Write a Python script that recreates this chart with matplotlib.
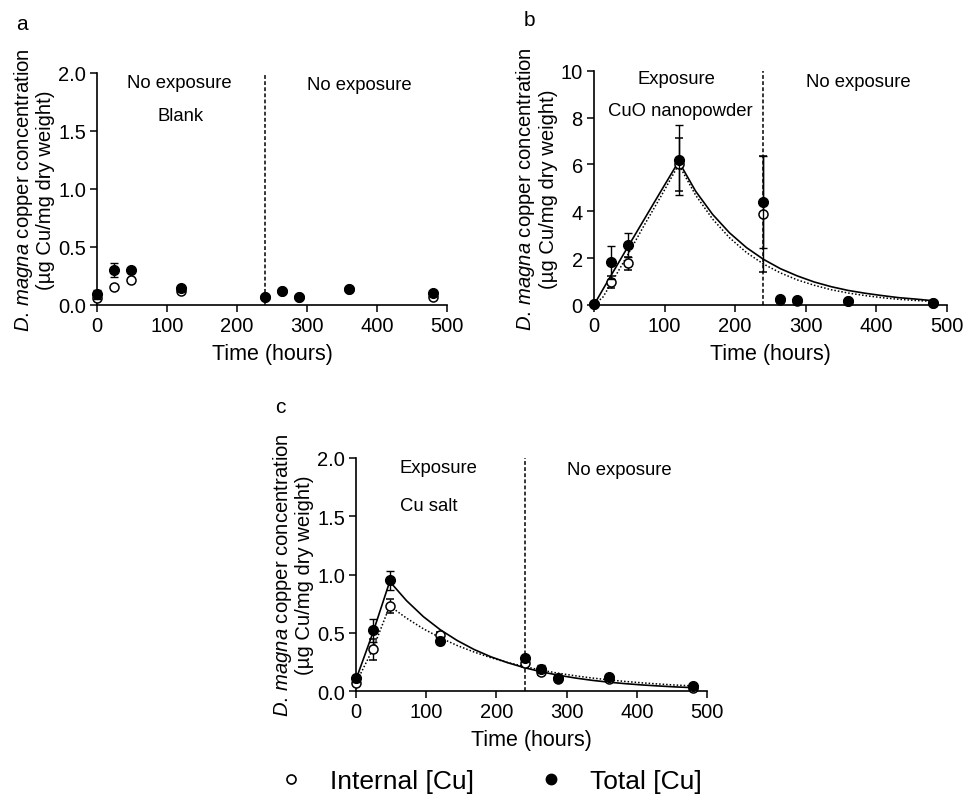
import matplotlib
matplotlib.use('Agg')
import matplotlib.pyplot as plt
from matplotlib.lines import Line2D
from matplotlib.ticker import FormatStrFormatter

plt.rcParams['font.family'] = ['Liberation Sans', 'DejaVu Sans']
plt.rcParams['mathtext.fontset'] = 'custom'
plt.rcParams['mathtext.it'] = 'Liberation Sans:italic'
plt.rcParams['mathtext.rm'] = 'Liberation Sans'

# sampling times (hours)
times = [0, 24, 48, 120, 240, 264, 288, 360, 480]

# panel a - blank
a_internal = [0.06, 0.155, 0.215, 0.12, 0.07, 0.12, 0.07, 0.14, 0.07]
a_internal_err = [0.02, 0.0, 0.0, 0.0, 0.0, 0.0, 0.0, 0.0, 0.0]
a_total = [0.09, 0.30, 0.30, 0.15, 0.07, 0.12, 0.07, 0.14, 0.10]
a_total_err = [0.04, 0.06, 0.0, 0.0, 0.0, 0.0, 0.0, 0.0, 0.0]

# panel b - CuO nanopowder
b_internal = [0.05, 0.98, 1.78, 6.0, 3.88, 0.2, 0.15, 0.15, 0.08]
b_internal_err = [0.0, 0.25, 0.28, 1.15, 2.47, 0.0, 0.0, 0.0, 0.0]
b_total = [0.05, 1.82, 2.56, 6.2, 4.4, 0.25, 0.22, 0.18, 0.1]
b_total_err = [0.0, 0.7, 0.52, 1.5, 1.97, 0.0, 0.0, 0.0, 0.0]

# panel c - Cu salt
c_internal = [0.07, 0.36, 0.73, 0.48, 0.24, 0.16, 0.10, 0.10, 0.03]
c_internal_err = [0.02, 0.09, 0.06, 0.03, 0.03, 0.02, 0.0, 0.0, 0.0]
c_total = [0.11, 0.52, 0.95, 0.43, 0.28, 0.19, 0.11, 0.12, 0.04]
c_total_err = [0.03, 0.10, 0.08, 0.03, 0.0, 0.03, 0.0, 0.0, 0.0]

# fitted model curves
fit_t_b = [0, 12, 24, 48, 72, 96, 120, 144, 168, 192, 216, 240, 264, 288, 312,
           336, 360, 384, 408, 432, 456, 480]
b_fit_total = [0.0, 0.63, 1.25, 2.48, 3.7, 4.92, 6.13, 4.86, 3.87, 3.08, 2.45,
               1.95, 1.55, 1.24, 0.98, 0.78, 0.62, 0.50, 0.40, 0.31, 0.25, 0.18]
b_fit_internal = [0.05, 0.3, 0.9, 2.15, 3.45, 4.7, 6.0, 4.69, 3.67, 2.87, 2.24,
                  1.75, 1.37, 1.07, 0.84, 0.65, 0.51, 0.40, 0.31, 0.24, 0.19, 0.15]

fit_t_c = [0, 24, 48, 72, 96, 120, 144, 168, 192, 216, 240, 264, 288, 312,
           336, 360, 384, 408, 432, 456, 480]
c_fit_total = [0.10, 0.50, 0.94, 0.775, 0.638, 0.526, 0.434, 0.357, 0.294, 0.243,
               0.200, 0.165, 0.136, 0.112, 0.092, 0.076, 0.063, 0.052, 0.043,
               0.035, 0.029]
c_fit_internal = [0.07, 0.36, 0.73, 0.625, 0.534, 0.457, 0.391, 0.335, 0.286,
                  0.245, 0.210, 0.179, 0.153, 0.131, 0.112, 0.096, 0.082, 0.070,
                  0.060, 0.051, 0.044]

YLABEL = '$\\it{D.\\,magna}$ copper concentration\n(\u00b5g Cu/mg dry weight)'
TXT = 13.3


def style_axis(ax, ymax, ystep, fmt):
    for s in ['top', 'right']:
        ax.spines[s].set_visible(False)
    for s in ['left', 'bottom']:
        ax.spines[s].set_linewidth(1.2)
    ax.set_xlim(0, 500)
    ax.set_ylim(0, ymax)
    ax.set_xticks(range(0, 501, 100))
    ax.set_yticks([i * ystep for i in range(int(round(ymax / ystep)) + 1)])
    ax.yaxis.set_major_formatter(FormatStrFormatter(fmt))
    ax.tick_params(direction='out', length=5, width=1.1, labelsize=14.5, pad=3)
    ax.set_xlabel('Time (hours)', fontsize=15.5, labelpad=6)
    ax.set_ylabel(YLABEL, fontsize=14.6, labelpad=2, linespacing=1.1)
    ax.axvline(240, color='black', lw=1.1, ls=(0, (2.5, 1.5)), zorder=1)


def draw_points(ax, internal, internal_err, total, total_err):
    ax.errorbar(times, internal, yerr=internal_err, fmt='o', ms=6.5, mfc='white',
                mec='black', mew=1.1, ecolor='black', elinewidth=1, capsize=3,
                capthick=1, clip_on=False, zorder=3)
    ax.errorbar(times, total, yerr=total_err, fmt='o', ms=7, mfc='black',
                mec='black', ecolor='black', elinewidth=1, capsize=3, capthick=1,
                clip_on=False, zorder=4)


fig = plt.figure(figsize=(9.68, 8.03), dpi=100)
ax_a = fig.add_axes([0.1002, 0.619, 0.3616, 0.289])
ax_b = fig.add_axes([0.6136, 0.619, 0.3647, 0.2915])
ax_c = fig.add_axes([0.3678, 0.1382, 0.3626, 0.2902])

# panel a
style_axis(ax_a, 2.0, 0.5, '%.1f')
draw_points(ax_a, a_internal, a_internal_err, a_total, a_total_err)
ax_a.text(117, 1.92, 'No exposure', ha='center', va='center', fontsize=TXT)
ax_a.text(120, 1.63, 'Blank', ha='center', va='center', fontsize=TXT)
ax_a.text(374, 1.90, 'No exposure', ha='center', va='center', fontsize=TXT)

# panel b
style_axis(ax_b, 10, 2, '%d')
ax_b.plot(fit_t_b, b_fit_total, color='black', lw=1.2, zorder=2)
ax_b.plot(fit_t_b, b_fit_internal, color='black', lw=1.1, ls=(0, (1, 1.3)), zorder=2)
draw_points(ax_b, b_internal, b_internal_err, b_total, b_total_err)
ax_b.text(117, 9.66, 'Exposure', ha='center', va='center', fontsize=TXT)
ax_b.text(122, 8.29, 'CuO nanopowder', ha='center', va='center', fontsize=TXT)
ax_b.text(375, 9.53, 'No exposure', ha='center', va='center', fontsize=TXT)

# panel c
style_axis(ax_c, 2.0, 0.5, '%.1f')
ax_c.plot(fit_t_c, c_fit_total, color='black', lw=1.2, zorder=2)
ax_c.plot(fit_t_c, c_fit_internal, color='black', lw=1.1, ls=(0, (1, 1.3)), zorder=2)
draw_points(ax_c, c_internal, c_internal_err, c_total, c_total_err)
ax_c.text(117, 1.92, 'Exposure', ha='center', va='center', fontsize=TXT)
ax_c.text(104, 1.59, 'Cu salt', ha='center', va='center', fontsize=TXT)
ax_c.text(375, 1.905, 'No exposure', ha='center', va='center', fontsize=TXT)

# panel letters
fig.text(22 / 968, 1 - 24 / 803, 'a', ha='center', va='center', fontsize=15)
fig.text(529 / 968, 1 - 20 / 803, 'b', ha='center', va='center', fontsize=15)
fig.text(280 / 968, 1 - 408 / 803, 'c', ha='center', va='center', fontsize=15)

handles = [
    Line2D([], [], ls='none', marker='o', ms=6.5, mfc='white', mec='black', mew=1.2),
    Line2D([], [], ls='none', marker='o', ms=7.5, mfc='black', mec='black'),
]
fig.legend(handles, ['Internal [Cu]', 'Total [Cu]'], loc='center',
           bbox_to_anchor=(0.5056, 0.026), ncol=2, frameon=False, fontsize=19,
           handlelength=1.0, handletextpad=0.98, columnspacing=2.42, borderpad=0)

fig.savefig('out.png', dpi=100)
